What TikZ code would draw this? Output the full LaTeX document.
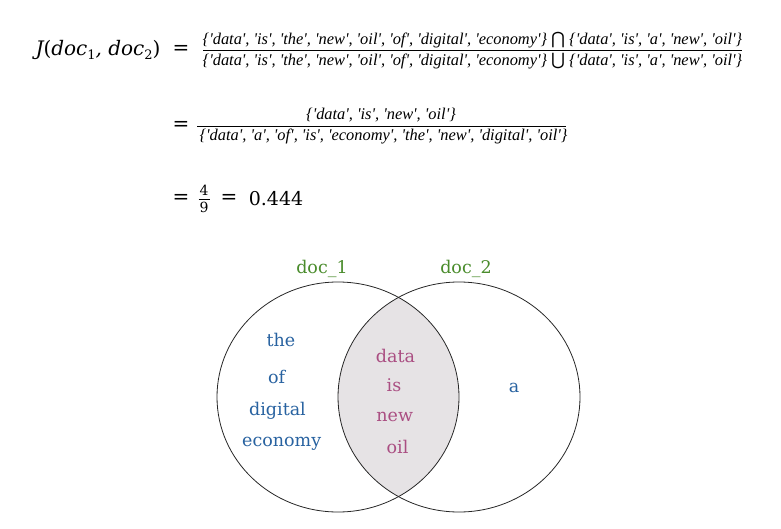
\documentclass[tikz,border=0pt]{standalone}
\usepackage{fontspec}
\newfontfamily\vennfont{DejaVu Serif}
\newfontfamily\symfont{DejaVu Sans}
\newfontfamily\setfont{Liberation Serif}
\definecolor{docgreen}{RGB}{74,140,44}
\definecolor{wordblue}{RGB}{40,98,160}
\definecolor{wordpink}{RGB}{170,78,130}
\definecolor{lensgray}{RGB}{230,227,229}
\newcommand{\subdig}[1]{\raisebox{-0.35ex}{\upshape\fontsize{13}{14}\selectfont #1}}
\newcommand{\bigcapsym}{{\symfont\upshape\fontsize{17}{18}\selectfont ⋂}}
\newcommand{\bigcupsym}{{\symfont\upshape\fontsize{17}{18}\selectfont ⋃}}
\begin{document}
\begin{tikzpicture}[x=1pt,y=-1pt,
  settext/.style={inner sep=0pt,font=\setfont\itshape\fontsize{16.4}{18}\selectfont},
  bigtext/.style={inner sep=0pt,font=\vennfont\fontsize{20}{22}\selectfont},
  smalldigit/.style={inner sep=0pt,font=\vennfont\fontsize{14}{16}\selectfont},
  docname/.style={inner sep=0pt,anchor=base,font=\vennfont\fontsize{17.5}{20}\selectfont,text=docgreen},
  onlyword/.style={inner sep=0pt,anchor=base,font=\vennfont\fontsize{17.5}{20}\selectfont,text=wordblue},
  bothword/.style={inner sep=0pt,anchor=base,font=\vennfont\fontsize{17.5}{20}\selectfont,text=wordpink},
  fracbar/.style={line width=0.8pt},
  setcircle/.style={draw=black!85,line width=0.8pt}]
\useasboundingbox (0,0) rectangle (781,529);
% line 1
\node[bigtext,font=\vennfont\itshape\fontsize{20}{22}\selectfont] (J) at (98,50) {J{\upshape(}doc\subdig{1}, doc\subdig{2}{\upshape)}};
\node[bigtext] (eq1) at (181,50) {=};
\node[settext] (num1) at (472.5,40) {\{'data', 'is', 'the', 'new', 'oil', 'of', 'digital', 'economy'\} \bigcapsym{} \{'data', 'is', 'a', 'new', 'oil'\}};
\node[settext] (den1) at (472.5,61) {\{'data', 'is', 'the', 'new', 'oil', 'of', 'digital', 'economy'\} \bigcupsym{} \{'data', 'is', 'a', 'new', 'oil'\}};
\coordinate (b1l) at (203,50.5);
\coordinate (b1r) at (742,50.5);
\draw[fracbar] (b1l) -- (b1r);
% line 2
\node[bigtext] (eq2) at (181,126) {=};
\node[settext] (num2) at (381,115) {\{'data', 'is', 'new', 'oil'\}};
\node[settext] (den2) at (383.5,136) {\{'data', 'a', 'of', 'is', 'economy', 'the', 'new', 'digital', 'oil'\}};
\coordinate (b2l) at (197,126.5);
\coordinate (b2r) at (566,126.5);
\draw[fracbar] (b2l) -- (b2r);
% line 3
\node[bigtext] (eq3) at (181,199) {=};
\node[smalldigit] (four) at (204,190.5) {4};
\node[smalldigit] (nine) at (204,207.5) {9};
\coordinate (b3l) at (198.5,199);
\coordinate (b3r) at (209.5,199);
\draw[line width=0.6pt] (b3l) -- (b3r);
\node[bigtext] (eq4) at (229,199) {=};
\node[inner sep=0pt,font=\vennfont\fontsize{19}{22}\selectfont] (val) at (276,199) {0.444};
% venn
\begin{scope}
\clip (338,397) ellipse [x radius=121, y radius=115];
\fill[lensgray] (459,397) ellipse [x radius=121, y radius=115];
\end{scope}
\draw[setcircle] (338,397) ellipse [x radius=121, y radius=115];
\draw[setcircle] (459,397) ellipse [x radius=121, y radius=115];
\node[docname] (d1) at (322,273) {doc\_1};
\node[docname] (d2) at (466,273) {doc\_2};
\node[onlyword] (w1) at (281,346.5) {the};
\node[onlyword] (w2) at (276.7,383) {of};
\node[onlyword] (w3) at (277.5,415.5) {digital};
\node[onlyword] (w4) at (281.7,446.5) {economy};
\node[onlyword] (w5) at (514,392.5) {a};
\node[bothword] (c1) at (395.5,362.5) {data};
\node[bothword] (c2) at (394,391.5) {is};
\node[bothword] (c3) at (394.7,421.5) {new};
\node[bothword] (c4) at (397.5,453) {oil};
\end{tikzpicture}
\end{document}
